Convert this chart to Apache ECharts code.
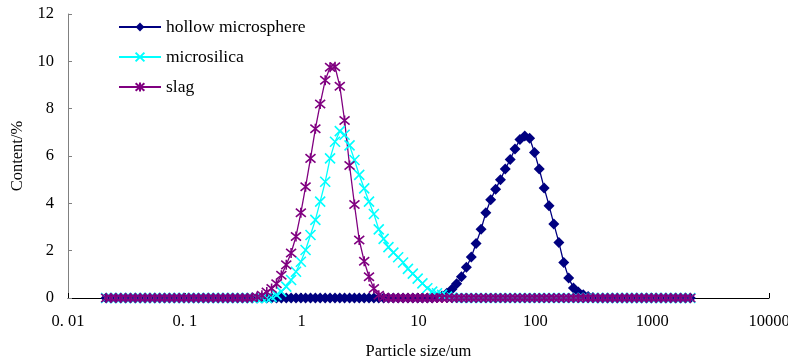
<!DOCTYPE html>
<html>
<head>
<meta charset="utf-8">
<script src="https://cdn.jsdelivr.net/npm/echarts@6/dist/echarts.min.js"></script>
<style>
  html, body { margin: 0; padding: 0; background: #fff; }
  #main { width: 788px; height: 362px; }
</style>
</head>
<body>
<div id="main"></div>
<script>
// particle size channels, um
const sizes = [
  0.0212, 0.0233, 0.0257, 0.0283, 0.0311, 0.0343, 0.0377, 0.0415, 0.0457, 0.0503, 0.0553, 0.0609,
  0.0670, 0.0738, 0.0812, 0.0894, 0.0984, 0.108, 0.119, 0.131, 0.144, 0.159, 0.175, 0.193,
  0.212, 0.233, 0.257, 0.283, 0.311, 0.343, 0.377, 0.415, 0.457, 0.503, 0.553, 0.609,
  0.670, 0.738, 0.812, 0.894, 0.984, 1.08, 1.19, 1.31, 1.44, 1.59, 1.75, 1.93,
  2.12, 2.33, 2.57, 2.83, 3.11, 3.43, 3.77, 4.15, 4.57, 5.03, 5.53, 6.09,
  6.70, 7.38, 8.12, 8.94, 9.84, 10.8, 11.9, 13.1, 14.4, 15.9, 17.5, 19.3,
  21.2, 23.3, 25.7, 28.3, 31.1, 34.3, 37.7, 41.5, 45.7, 50.3, 55.3, 60.9,
  67.0, 73.8, 81.2, 89.4, 98.4, 108, 119, 131, 144, 159, 175, 193,
  212, 233, 257, 283, 311, 343, 377, 415, 457, 503, 553, 609,
  670, 738, 812, 894, 984, 1080, 1190, 1310, 1440, 1590, 1750, 1930,
  2120
];

// content, %
const hollowMicrosphere = [
  0, 0, 0, 0, 0, 0, 0, 0, 0, 0,
  0, 0, 0, 0, 0, 0, 0, 0, 0, 0,
  0, 0, 0, 0, 0, 0, 0, 0, 0, 0,
  0, 0, 0, 0, 0, 0, 0, 0, 0, 0,
  0, 0, 0, 0, 0, 0, 0, 0, 0, 0,
  0, 0, 0, 0, 0, 0, 0, 0, 0, 0,
  0, 0, 0, 0, 0, 0, 0, 0, 0.02, 0.08,
  0.2, 0.37, 0.6, 0.9, 1.3, 1.73, 2.3, 2.9, 3.6, 4.15,
  4.6, 5.0, 5.45, 5.85, 6.3, 6.7, 6.85, 6.75, 6.15, 5.45,
  4.65, 3.9, 3.13, 2.35, 1.5, 0.85, 0.42, 0.25, 0.14, 0.06,
  0.02, 0, 0, 0, 0, 0, 0, 0, 0, 0,
  0, 0, 0, 0, 0, 0, 0, 0, 0, 0,
  0
];

const microsilica = [
  0, 0, 0, 0, 0, 0, 0, 0, 0, 0,
  0, 0, 0, 0, 0, 0, 0, 0, 0, 0,
  0, 0, 0, 0, 0, 0, 0, 0, 0, 0,
  0, 0, 0, 0, 0.05, 0.13, 0.27, 0.48, 0.76, 1.11,
  1.53, 2.03, 2.66, 3.3, 4.07, 4.91, 5.9, 6.6, 7.05, 6.9,
  6.45, 5.83, 5.2, 4.63, 4.07, 3.55, 2.9, 2.5, 2.15, 1.92,
  1.72, 1.5, 1.23, 1.03, 0.82, 0.62, 0.41, 0.27, 0.2, 0.13,
  0.06, 0.02, 0, 0, 0, 0, 0, 0, 0, 0,
  0, 0, 0, 0, 0, 0, 0, 0, 0, 0,
  0, 0, 0, 0, 0, 0, 0, 0, 0, 0,
  0, 0, 0, 0, 0, 0, 0, 0, 0, 0,
  0, 0, 0, 0, 0, 0, 0, 0, 0, 0,
  0
];

const slag = [
  0, 0, 0, 0, 0, 0, 0, 0, 0, 0,
  0, 0, 0, 0, 0, 0, 0, 0, 0, 0,
  0, 0, 0, 0, 0, 0, 0, 0, 0, 0,
  0.01, 0.04, 0.12, 0.25, 0.4, 0.6, 0.96, 1.4, 1.9, 2.6,
  3.6, 4.7, 5.9, 7.15, 8.2, 9.2, 9.75, 9.77, 8.95, 7.5,
  5.6, 3.95, 2.45, 1.55, 0.9, 0.4, 0.12, 0.03, 0, 0,
  0, 0, 0, 0, 0, 0, 0, 0, 0, 0,
  0, 0, 0, 0, 0, 0, 0, 0, 0, 0,
  0, 0, 0, 0, 0, 0, 0, 0, 0, 0,
  0, 0, 0, 0, 0, 0, 0, 0, 0, 0,
  0, 0, 0, 0, 0, 0, 0, 0, 0, 0,
  0, 0, 0, 0, 0, 0, 0, 0, 0, 0,
  0
];

const xTickLabels = ['0. 01', '0. 1', '1', '10', '100', '1000', '10000'];

const serif = '"Liberation Serif", "Times New Roman", serif';
const crossPath = 'path://M0,0L10,10M10,0L0,10';
const starPath = 'path://M0,0L10,10M10,0L0,10M5,-1L5,11';

function pairs(vals) {
  return sizes.map((s, i) => [s, vals[i]]);
}

function makeSeries(name, vals, color, symbol, symbolSize, stroked) {
  return {
    name: name,
    type: 'line',
    data: pairs(vals),
    symbol: symbol,
    symbolSize: symbolSize,
    showAllSymbol: true,
    lineStyle: { color: color, width: 1.3 },
    itemStyle: stroked
      ? { color: color, borderColor: color, borderWidth: 1.6 }
      : { color: color, borderWidth: 0 },
    emphasis: { disabled: true },
  };
}

const chart = echarts.init(document.getElementById('main'));
chart.setOption({
  animation: false,
  grid: { left: 68, right: 19, top: 14, bottom: 64, outerBoundsMode: 'none', containLabel: false },
  legend: {
    orient: 'vertical',
    left: 113,
    top: 13,
    itemWidth: 42,
    itemHeight: 11,
    itemGap: 12,
    textStyle: { fontFamily: serif, fontSize: 17.5, color: '#000' },
    data: ['hollow microsphere', 'microsilica', 'slag'],
  },
  xAxis: {
    type: 'log',
    logBase: 10,
    min: 0.01,
    max: 10000,
    name: 'Particle size/um',
    nameLocation: 'middle',
    nameGap: 45,
    nameTextStyle: { fontFamily: serif, fontSize: 16.5, color: '#000' },
    axisLine: { lineStyle: { color: '#000', width: 1 } },
    axisTick: { show: true, inside: true, length: 5, lineStyle: { color: '#000' } },
    splitLine: { show: false },
    axisLabel: {
      fontFamily: serif, fontSize: 16.5, color: '#000', margin: 15,
      formatter: v => xTickLabels[Math.round(Math.log10(v)) + 2],
    },
  },
  yAxis: {
    type: 'value',
    min: 0,
    max: 12,
    interval: 2,
    name: 'Content/%',
    nameLocation: 'middle',
    nameGap: 42,
    nameTextStyle: { fontFamily: serif, fontSize: 16.5, color: '#000' },
    axisLine: { show: true, lineStyle: { color: '#808080', width: 1 } },
    axisTick: { show: true, inside: true, length: 4, lineStyle: { color: '#808080' } },
    splitLine: { show: false },
    axisLabel: { fontFamily: serif, fontSize: 16.5, color: '#000', margin: 14 },
  },
  series: [
    makeSeries('hollow microsphere', hollowMicrosphere, '#000080', 'diamond', 11, false),
    makeSeries('microsilica', microsilica, '#00FFFF', crossPath, 10, true),
    makeSeries('slag', slag, '#800080', starPath, 10, true),
  ],
});
</script>
</body>
</html>
